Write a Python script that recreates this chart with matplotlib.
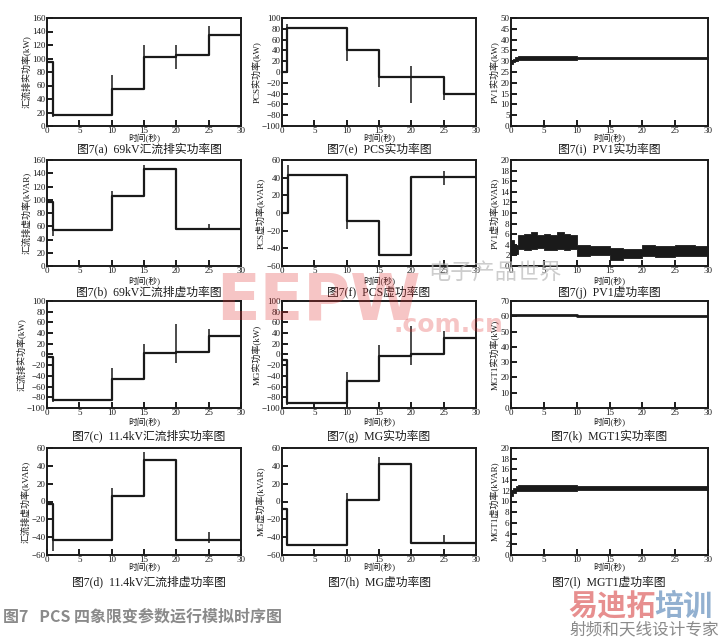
#!/usr/bin/env python

import numpy as np
import matplotlib
matplotlib.use("Agg")
import matplotlib.pyplot as plt

plt.rcParams['font.family'] = ['Liberation Serif', 'Noto Sans CJK SC', 'DejaVu Sans']

# step series: change times and levels (level holds until next time)
a_t = [0, 1, 10, 15, 20, 25, 30]
a_v = [95, 17, 55, 102, 105, 135, 135]
a_spk = [(0, 95, 100), (1, 13, 95), (10, 17, 76), (15, 92, 120), (20, 85, 120), (25, 105, 148)]

e_t = [0, 0.8, 10, 15, 20, 25, 30]
e_v = [0, 82, 40, -10, -10, -40, -40]
e_spk = [(0.8, 0, 88), (10, 20, 82), (15, -27, 40), (20, -57, 12), (25, -52, -10)]

b_t = [0, 1, 10, 15, 20, 30]
b_v = [97, 55, 105, 146, 56, 56]
b_spk = [(0, 97, 100), (1, 45, 97), (10, 55, 113), (15, 105, 153), (25, 56, 64)]

f_t = [0, 1, 10, 15, 20, 30]
f_v = [0, 43, -9, -48, 41, 41]
f_spk = [(1, 0, 54), (10, -18, 43), (20, -48, 41), (25, 32, 47)]

c_t = [0, 1, 10, 15, 20, 25, 30]
c_v = [-5, -85, -46, 2, 5, 35, 35]
c_spk = [(0, -5, 12), (1, -88, -5), (10, -85, -25), (15, -46, 20), (20, -15, 57), (25, 5, 47)]

g_t = [0, 0.8, 10, 15, 20, 25, 30]
g_v = [-10, -90, -50, -3, 1, 31, 31]
g_spk = [(0, -10, 12), (0.8, -95, -10), (10, -90, -32), (15, -50, 17), (20, -20, 53), (25, 1, 43)]

d_t = [0, 1, 10, 15, 20, 30]
d_v = [-3, -43, 6, 47, -43, -43]
d_spk = [(1, -55, -3), (10, -43, 15), (15, 6, 55), (25, -47, -34)]

h_t = [0, 0.8, 10, 15, 20, 30]
h_v = [-8, -49, 2, 42, -47, -47]
h_spk = [(0.8, -49, -8), (10, -49, 9), (15, 2, 50), (20, -47, 42), (25, -48, -38)]

k_t = [0, 10, 15, 20, 30]
k_v = [60.8, 60.3, 59.9, 60.5, 60.5]

# noisy bands: times, lower and upper envelope
i_t = [0, 0.3, 0.6, 1, 10, 30]
i_lo = [28.5, 29.5, 30.3, 30.7, 31.0, 31.0]
i_hi = [30.5, 31.0, 31.8, 32.2, 31.9, 31.9]

j_t = [0, 0.5, 1, 2, 3, 4, 5, 6, 7, 8, 9, 10, 12, 15, 17, 20, 22, 25, 28, 30]
j_lo = [2.0, 2.2, 3.3, 3.0, 3.2, 3.4, 3.0, 3.1, 3.3, 3.0, 3.2, 1.9, 2.0, 1.2, 1.5, 1.8, 1.7, 1.9, 1.8, 1.8]
j_hi = [5.0, 4.0, 5.8, 6.0, 6.5, 5.8, 6.0, 5.9, 6.5, 6.0, 5.9, 3.9, 3.7, 3.4, 3.2, 4.0, 3.8, 3.9, 3.7, 3.7]

l_t = [0, 0.3, 0.7, 1, 10, 30]
l_lo = [11.0, 11.6, 12.0, 12.0, 12.1, 12.1]
l_hi = [12.0, 12.6, 12.9, 13.0, 12.9, 12.9]

ylabels = {
    'a': '汇流排实功率(kW)', 'e': 'PCS实功率(kW)', 'i': 'PV1实功率(kW)',
    'b': '汇流排虚功率(kVAR)', 'f': 'PCS虚功率(kVAR)', 'j': 'PV1虚功率(kVAR)',
    'c': '汇流排实功率(kW)', 'g': 'MG实功率(kW)', 'k': 'MGT1实功率(kW)',
    'd': '汇流排虚功率(kVAR)', 'h': 'MG虚功率(kVAR)', 'l': 'MGT1虚功率(kVAR)',
}
captions = {
    'a': ('a', '69kV汇流排实功率图'), 'e': ('e', 'PCS实功率图'), 'i': ('i', 'PV1实功率图'),
    'b': ('b', '69kV汇流排虚功率图'), 'f': ('f', 'PCS虚功率图'), 'j': ('j', 'PV1虚功率图'),
    'c': ('c', '11.4kV汇流排实功率图'), 'g': ('g', 'MG实功率图'), 'k': ('k', 'MGT1实功率图'),
    'd': ('d', '11.4kV汇流排虚功率图'), 'h': ('h', 'MG虚功率图'), 'l': ('l', 'MGT1虚功率图'),
}
yticks = {
    'a': (0, 160, 20), 'e': (-100, 100, 20), 'i': (0, 50, 5),
    'b': (0, 160, 20), 'f': (-60, 60, 20), 'j': (0, 20, 2),
    'c': (-100, 100, 20), 'g': (-100, 100, 20), 'k': (0, 70, 10),
    'd': (-60, 60, 20), 'h': (-60, 60, 20), 'l': (0, 20, 2),
}

W, H = 724, 640
fig = plt.figure(figsize=(W / 100, H / 100), dpi=100)

cols = [(47, 241), (282, 476), (511, 708)]
rows = [(18, 126), (160, 266), (301, 408), (448, 555)]
grid = [['a', 'e', 'i'], ['b', 'f', 'j'], ['c', 'g', 'k'], ['d', 'h', 'l']]
xlab_y = [139, 282, 423, 568]
cap_y = [149, 292, 436, 582]
cap_x = [149, 379, 609]

ink = '#1a1a1a'

for r, (top, bot) in enumerate(rows):
    for c, (left, right) in enumerate(cols):
        key = grid[r][c]
        ax = fig.add_axes([left / W, 1 - bot / H, (right - left) / W, (bot - top) / H])
        lo, hi, st = yticks[key]
        ax.set_xlim(0, 30)
        ax.set_ylim(lo, hi)
        ax.set_xticks(np.arange(0, 31, 5))
        ax.set_yticks(np.arange(lo, hi + 1, st))
        ax.tick_params(direction='in', length=4, width=1.4, labelsize=6.5,
                       pad=1, colors=ink)
        for s in ax.spines.values():
            s.set_linewidth(1.4)
            s.set_color(ink)

        if key in ('i', 'j', 'l'):
            t, lw_, up = {'i': (i_t, i_lo, i_hi), 'j': (j_t, j_lo, j_hi),
                          'l': (l_t, l_lo, l_hi)}[key]
            ax.fill_between(t, lw_, up, step='post', color=ink, lw=0.6)
        elif key == 'k':
            ax.step(k_t, k_v, where='post', color=ink, lw=2.0)
        else:
            t, v, spk = {'a': (a_t, a_v, a_spk), 'e': (e_t, e_v, e_spk),
                         'b': (b_t, b_v, b_spk), 'f': (f_t, f_v, f_spk),
                         'c': (c_t, c_v, c_spk), 'g': (g_t, g_v, g_spk),
                         'd': (d_t, d_v, d_spk), 'h': (h_t, h_v, h_spk)}[key]
            ax.step(t, v, where='post', color=ink, lw=1.6)
            for (x0, y0, y1) in spk:
                ax.vlines(x0, y0, y1, color=ink, lw=1.1)

        ax.set_ylabel(ylabels[key], fontsize=6.5, labelpad=1, color=ink)
        fig.text(((left + right) / 2) / W, 1 - xlab_y[r] / H, '时间(秒)',
                 ha='center', va='center', fontsize=6.3, color=ink)
        letter, name = captions[key]
        fig.text(cap_x[c] / W, 1 - cap_y[r] / H,
                 '图7(' + letter + ')  ' + name,
                 ha='center', va='center', fontsize=8.5, color=ink)

# figure title
fig.text(3 / W, 1 - 617 / H, '图7   PCS 四象限变参数运行模拟时序图',
         ha='left', va='center', fontsize=11.5, fontweight='bold', color='#8a8a8a',
         family=['Noto Sans CJK SC', 'DejaVu Sans'])

# watermarks
fig.text(216 / W, 1 - 302 / H, 'EEPW', fontsize=46, fontweight='bold',
         color='#e23030', alpha=0.28, ha='left', va='center', family=['DejaVu Sans'])
fig.text(393 / W, 1 - 325 / H, '.com.cn', fontsize=18, fontweight='bold',
         color='#e23030', alpha=0.28, ha='left', va='center', family=['DejaVu Sans'])
fig.text(495 / W, 1 - 272 / H, '电子产品世界', fontsize=16, color='#b8b8b8',
         alpha=0.7, ha='center', va='center', family=['Noto Sans CJK SC'])
fig.text(568 / W, 1 - 606 / H, '易迪拓', fontsize=21, fontweight='bold',
         color='#e06a6a', alpha=0.75, ha='left', va='center', family=['Noto Sans CJK SC'])
fig.text(654 / W, 1 - 606 / H, '培训', fontsize=21, fontweight='bold',
         color='#7fa2c8', alpha=0.85, ha='left', va='center', family=['Noto Sans CJK SC'])
fig.text(570 / W, 1 - 630 / H, '射频和天线设计专家', fontsize=12,
         color='#8a8a8a', ha='left', va='center', family=['Noto Sans CJK SC'])

fig.savefig('out.png', dpi=100)
